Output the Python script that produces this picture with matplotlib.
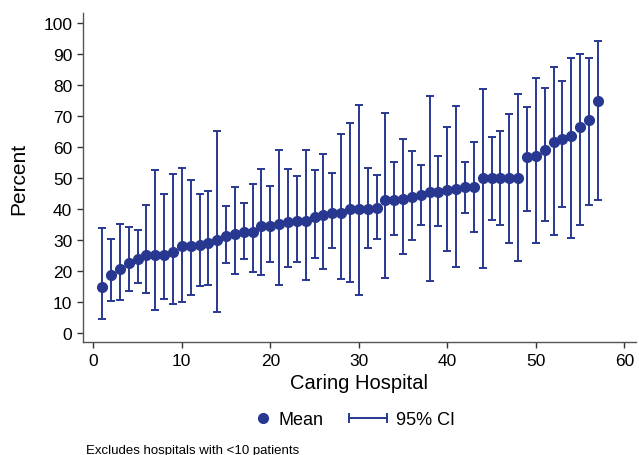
import numpy as np
import matplotlib
matplotlib.use("Agg")
import matplotlib.pyplot as plt
from matplotlib.lines import Line2D
from matplotlib.legend_handler import HandlerBase, HandlerLine2D

plt.rcParams['font.family'] = ['Liberation Sans', 'DejaVu Sans']

hospital = np.arange(1, 58)
mean = [14.8, 18.7, 20.6, 22.6, 23.9, 25.0, 25.0, 25.0, 26.2, 27.9,
        27.9, 28.3, 28.9, 30.0, 31.2, 31.8, 32.5, 32.5, 34.4, 34.4,
        35.0, 35.8, 35.9, 36.2, 37.4, 37.9, 38.7, 38.8, 39.8, 39.8,
        39.8, 40.1, 42.9, 43.0, 43.2, 43.9, 44.5, 45.3, 45.4, 46.0,
        46.5, 47.0, 47.1, 49.9, 49.9, 49.9, 49.9, 49.9, 56.6, 57.0,
        58.9, 61.4, 62.4, 63.4, 66.5, 68.6, 74.8]
lower = [4.3, 10.1, 10.4, 13.4, 16.2, 12.8, 7.3, 10.8, 9.2, 9.8,
         12.2, 15.0, 15.5, 6.8, 22.6, 19.1, 23.9, 19.6, 18.6, 22.7,
         15.4, 21.2, 22.9, 17.1, 24.0, 20.5, 27.2, 17.3, 16.3, 12.1,
         27.5, 30.1, 17.6, 31.4, 25.5, 30.0, 34.8, 16.6, 34.3, 26.5,
         21.2, 38.5, 32.5, 21.0, 36.4, 34.8, 29.1, 23.0, 39.3, 28.8,
         36.2, 31.5, 40.5, 30.7, 34.8, 41.3, 42.7]
upper = [33.8, 30.4, 35.0, 34.1, 33.3, 41.1, 52.4, 44.7, 51.1, 53.3,
         49.4, 44.7, 45.9, 65.1, 40.8, 47.0, 41.9, 47.9, 53.0, 47.5,
         59.0, 52.7, 50.6, 59.1, 52.6, 57.6, 51.4, 64.2, 67.6, 73.6,
         53.3, 50.8, 71.0, 55.1, 62.5, 58.6, 54.2, 76.4, 57.1, 66.5,
         73.3, 55.2, 61.6, 78.8, 63.3, 65.0, 70.7, 76.9, 72.7, 82.1,
         79.1, 85.9, 81.1, 88.8, 89.9, 88.7, 94.3]

navy = '#283891'
mean = np.array(mean)
err = np.vstack([mean - np.array(lower), np.array(upper) - mean])


class HandlerCI(HandlerBase):
    # horizontal bar with end caps, reaching left past its own box
    def create_artists(self, legend, orig_handle, xdescent, ydescent,
                       width, height, fontsize, trans):
        y = height / 2 - ydescent
        x0 = width - 2.25 * fontsize
        x1 = width - 0.15 * fontsize
        line = Line2D([x0, x1], [y, y], color=navy, linewidth=1.4,
                      marker='|', markersize=7, markeredgewidth=1.4)
        line.set_transform(trans)
        return [line]


fig = plt.figure(figsize=(6.39, 4.56), dpi=100)
ax = fig.add_axes([0.1294, 0.2471, 0.8656, 0.7222])

ax.errorbar(hospital, mean, yerr=err, fmt='none', ecolor=navy,
            elinewidth=1.4, capsize=3, capthick=1.4)
ax.plot(hospital, mean, 'o', color=navy, markersize=7, zorder=3)

ax.set_xlim(-1.2, 61.3)
ax.set_ylim(-3.1, 103.2)
ax.set_xticks(range(0, 61, 10))
ax.set_yticks(range(0, 101, 10))
ax.tick_params(labelsize=12.5, length=4, width=1, color='#333333')
for s in ['top', 'right']:
    ax.spines[s].set_visible(False)
for s in ['left', 'bottom']:
    ax.spines[s].set_color('#555555')
    ax.spines[s].set_linewidth(1)

ax.set_xlabel('Caring Hospital', fontsize=14.5, labelpad=4)
ax.set_ylabel('Percent', fontsize=15, labelpad=11)

h_mean = Line2D([], [], color=navy, marker='o', linestyle='none', markersize=7)
h_ci = Line2D([], [], color=navy)
fig.legend([h_mean, h_ci], ['Mean', '95% CI'], ncol=2, frameon=False,
           fontsize=13, loc='center left', bbox_to_anchor=(0.3975, 0.077),
           borderpad=0, borderaxespad=0,
           handlelength=1.0, columnspacing=2.7, handletextpad=0.33,
           handler_map={h_mean: HandlerLine2D(numpoints=1),
                        h_ci: HandlerCI()})

fig.text(0.135, 0.004, 'Excludes hospitals with <10 patients', fontsize=9.5)

fig.savefig('out.png', dpi=100)
